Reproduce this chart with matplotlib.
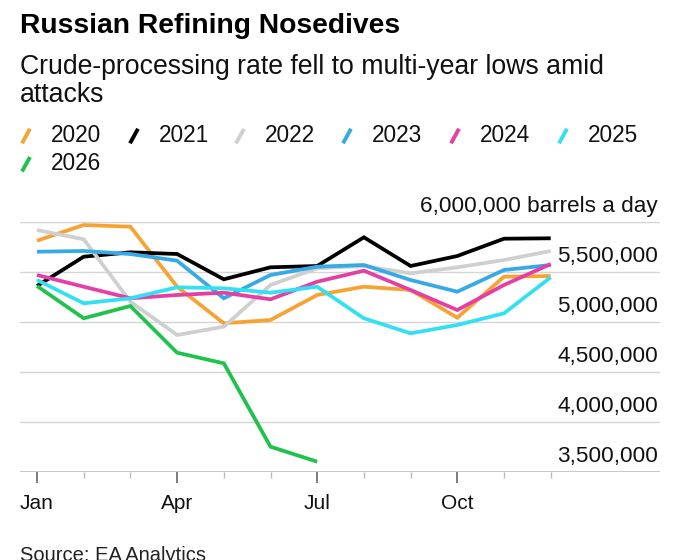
import matplotlib
matplotlib.use("Agg")
import matplotlib.pyplot as plt
from matplotlib.lines import Line2D
from matplotlib.ticker import FixedLocator, NullFormatter

plt.rcParams['font.family'] = ['Liberation Sans', 'DejaVu Sans']

months = list(range(1, 13))
month_labels = ["Jan", "Apr", "Jul", "Oct"]
month_label_pos = [1, 4, 7, 10]

years = ["2020", "2021", "2022", "2023", "2024", "2025", "2026"]
colors = ["#f7a334", "#000000", "#cfcfcf", "#35aae6", "#e33fa4", "#33e0ef", "#1fc24b"]

v2020 = [5810000, 5967000, 5950000, 5350000, 4984000, 5017000, 5267000, 5350000, 5317000, 5040000, 5450000, 5457000]
v2021 = [5357000, 5650000, 5694000, 5677000, 5424000, 5544000, 5557000, 5844000, 5557000, 5657000, 5830000, 5834000]
v2022 = [5917000, 5824000, 5200000, 4867000, 4950000, 5367000, 5534000, 5557000, 5484000, 5544000, 5617000, 5707000]
v2023 = [5700000, 5707000, 5677000, 5610000, 5234000, 5467000, 5550000, 5567000, 5417000, 5300000, 5517000, 5567000]
v2024 = [5467000, 5350000, 5234000, 5267000, 5290000, 5224000, 5400000, 5510000, 5317000, 5117000, 5367000, 5577000]
v2025 = [5417000, 5184000, 5234000, 5344000, 5334000, 5290000, 5350000, 5034000, 4884000, 4967000, 5084000, 5444000]
v2026 = [5357000, 5034000, 5157000, 4690000, 4584000, 3750000, 3600000]

series = [v2020, v2021, v2022, v2023, v2024, v2025, v2026]

y_ticks = [3500000, 4000000, 4500000, 5000000, 5500000, 6000000]
y_labels = ["3,500,000", "4,000,000", "4,500,000", "5,000,000", "5,500,000",
            "6,000,000 barrels a day"]

W, H = 680, 560
fig = plt.figure(figsize=(W / 100, H / 100), dpi=100)

# axes spans gridlines: x 20..660 px, y 221.7..471.7 px
ax = fig.add_axes([20 / W, (H - 471.7) / H, 640 / W, 250 / H])
ax.set_xlim(1 - 17 / 46.7, 1 + 623 / 46.7)
ax.set_ylim(3500000, 6000000)

for vals, col in zip(series, colors):
    ax.plot(months[:len(vals)], vals, color=col, lw=2.7, solid_joinstyle='miter',
            solid_capstyle='butt', clip_on=False, zorder=3)

# gridlines
for yt in y_ticks[1:]:
    ax.axhline(yt, color="#d4d4d4", lw=1.0, zorder=1)
ax.axhline(3500000, color="#c8c8c8", lw=1.4, zorder=2)

for yt, lab in zip(y_ticks, y_labels):
    ax.annotate(lab, xy=(1.0, yt), xycoords=ax.get_yaxis_transform(),
                xytext=(-1.5, 7.2), textcoords="offset points",
                ha="right", va="baseline", fontsize=16.2, color="#111111")

for s in ax.spines.values():
    s.set_visible(False)
ax.set_yticks([])

ax.xaxis.set_major_locator(FixedLocator(month_label_pos))
ax.set_xticklabels(month_labels)
ax.xaxis.set_minor_locator(FixedLocator([m for m in months if m not in month_label_pos]))
ax.xaxis.set_minor_formatter(NullFormatter())
ax.tick_params(axis="x", which="major", length=8, width=1.2, color="#666666",
               labelsize=15, pad=8, labelcolor="#111111")
ax.tick_params(axis="x", which="minor", length=4, width=1.0, color="#bbbbbb")

# titles
fig.text(20 / W, 1 - 33.3 / H, "Russian Refining Nosedives", fontsize=20.3,
         fontweight="bold", ha="left", va="baseline")
fig.text(20 / W, 1 - 74 / H, "Crude-processing rate fell to multi-year lows amid",
         fontsize=19.2, ha="left", va="baseline", color="#111111")
fig.text(20 / W, 1 - 101.5 / H, "attacks", fontsize=19.2, ha="left", va="baseline",
         color="#111111")

# legend
leg_x = [22, 130, 236, 343, 451, 559, 22]
leg_base = [142.3] * 6 + [170.5]
for yr, col, lx, lb in zip(years, colors, leg_x, leg_base):
    fig.add_artist(Line2D([lx / W, (lx + 8) / W], [1 - (lb + 1) / H, 1 - (lb - 13.5) / H],
                          color=col, lw=2.8, solid_capstyle='butt'))
    fig.text((lx + 29) / W, 1 - lb / H, yr, fontsize=16.3, ha="left", va="baseline",
             color="#111111")

fig.text(20 / W, 1 - 560.5 / H, "Source: EA Analytics", fontsize=14.5, ha="left",
         va="baseline", color="#222222")

fig.savefig("out.png", dpi=100)
